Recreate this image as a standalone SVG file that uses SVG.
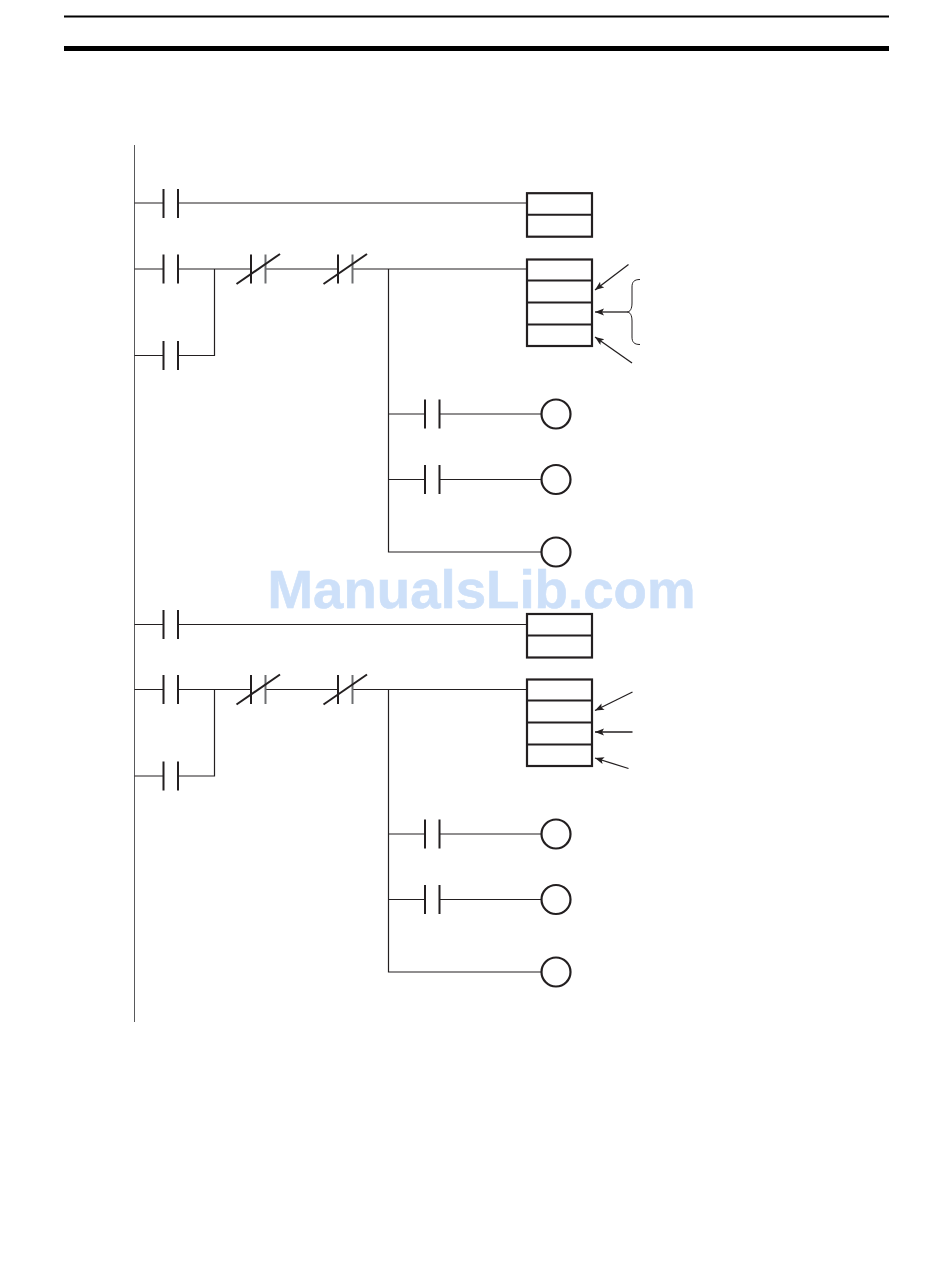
<svg xmlns="http://www.w3.org/2000/svg" width="950" height="1287" viewBox="0 0 950 1287">
<style>
.w{fill:none;stroke:#231f20;stroke-width:1.2}
.r{fill:none;stroke:#58595b;stroke-width:1}
.c{fill:none;stroke:#231f20;stroke-width:2}
.b{fill:#fff;stroke:#231f20;stroke-width:2.200}
.d{fill:none;stroke:#231f20;stroke-width:2}
.a{fill:none;stroke:#231f20;stroke-width:1.300;marker-end:url(#ah)}
.wm{font-family:"Liberation Sans",Arial,sans-serif;font-weight:700;font-size:54.500px;fill:#cde0f9;stroke:#cde0f9;stroke-width:0.600}
</style>
<defs>
<marker id="ah" markerUnits="userSpaceOnUse" markerWidth="11" markerHeight="8" refX="9" refY="3.500" orient="auto"><path d="M0 0L9 3.500L0 7L2 3.500Z" fill="#231f20"/></marker>
<g id="no"><path class="c" d="M0-14.500V14.500M14.500-14.500V14.500"/></g>
<g id="nc"><path class="c" d="M0-14.500V14.500"/><path d="M14.500-14.500V14.500" fill="none" stroke="#6d6e71" stroke-width="2"/><path class="c" d="M-14.500 15L29-15"/></g>
<circle id="coil" r="14.500" class="b"/>
<g id="box2"><rect x="527" y="0" width="65" height="43.500" class="b"/><path class="d" d="M527 21.500H592"/></g>
<g id="box4"><rect x="527" y="0" width="65" height="86.500" class="b"/><path class="d" d="M527 21H592M527 43H592M527 65H592"/></g>
</defs>
<rect width="950" height="1287" fill="#fff"/>
<g id="header"><path d="M64 16.500H889" stroke="#000" stroke-width="2"/><path d="M64 48.500H889" stroke="#000" stroke-width="5"/></g>
<g id="connectors">
<path class="r" d="M134.500 145V1022"/>
<path class="w" d="M134.500 203H163.500M178 203H527"/>
<path class="w" d="M134.500 269H163.500M178 269H251M265.500 269H338M352.500 269H527M134.500 355.500H163.500M178 355.500H214.500V269M388.500 269V552H541.500M388.500 414H424.500M439.500 414H541.500M388.500 479.500H424.500M439.500 479.500H541.500"/>
<path class="w" d="M134.500 624.500H163.500M178 624.500H527"/>
<path class="w" d="M134.500 689.500H163.500M178 689.500H251M265.500 689.500H338M352.500 689.500H527M134.500 776H163.500M178 776H214.500V689.500M388.500 689.500V972H541.500M388.500 834H424.500M439.500 834H541.500M388.500 899.500H424.500M439.500 899.500H541.500"/>
<path class="a" d="M628.500 264.500L595 290"/>
<path class="a" d="M627 312H595"/>
<path class="a" d="M632 363L595 337"/>
<path class="a" d="M632.500 692L595 710.500"/>
<path class="a" d="M632.500 732H595"/>
<path class="a" d="M628.500 768.500L595 758"/>
<path d="M640 279.500C634 279.500 632 282 632 287V303C632 309 630 312 627 312C630 312 632 315 632 321V337C632 342 634 344.500 640 344.500" fill="none" stroke="#231f20" stroke-width="1"/>
</g>
<g id="contact-1"><use href="#no" x="163.500" y="203.500"/></g>
<g id="contact-2"><use href="#no" x="163.500" y="269"/></g>
<g id="contact-3"><use href="#no" x="163.500" y="355.500"/></g>
<g id="contact-4"><use href="#nc" x="251" y="269"/></g>
<g id="contact-5"><use href="#nc" x="338" y="269"/></g>
<g id="contact-6"><use href="#no" x="425" y="414"/></g>
<g id="contact-7"><use href="#no" x="425" y="479.500"/></g>
<g id="contact-8"><use href="#no" x="163.500" y="624.500"/></g>
<g id="contact-9"><use href="#no" x="163.500" y="689.500"/></g>
<g id="contact-10"><use href="#no" x="163.500" y="776"/></g>
<g id="contact-11"><use href="#nc" x="251" y="689.500"/></g>
<g id="contact-12"><use href="#nc" x="338" y="689.500"/></g>
<g id="contact-13"><use href="#no" x="425" y="834"/></g>
<g id="contact-14"><use href="#no" x="425" y="899.500"/></g>
<g id="box-1"><use href="#box2" y="193.200"/></g>
<g id="box-2"><use href="#box4" y="259.500"/></g>
<g id="box-3"><use href="#box2" y="614"/></g>
<g id="box-4"><use href="#box4" y="679.500"/></g>
<g id="coil-1"><use href="#coil" x="556" y="414"/></g>
<g id="coil-2"><use href="#coil" x="556" y="479.500"/></g>
<g id="coil-3"><use href="#coil" x="556" y="552"/></g>
<g id="coil-4"><use href="#coil" x="556" y="834"/></g>
<g id="coil-5"><use href="#coil" x="556" y="899.500"/></g>
<g id="coil-6"><use href="#coil" x="556" y="972"/></g>
<text class="wm" x="267.500" y="608" textLength="428" lengthAdjust="spacingAndGlyphs">ManualsLib.com</text>
</svg>
